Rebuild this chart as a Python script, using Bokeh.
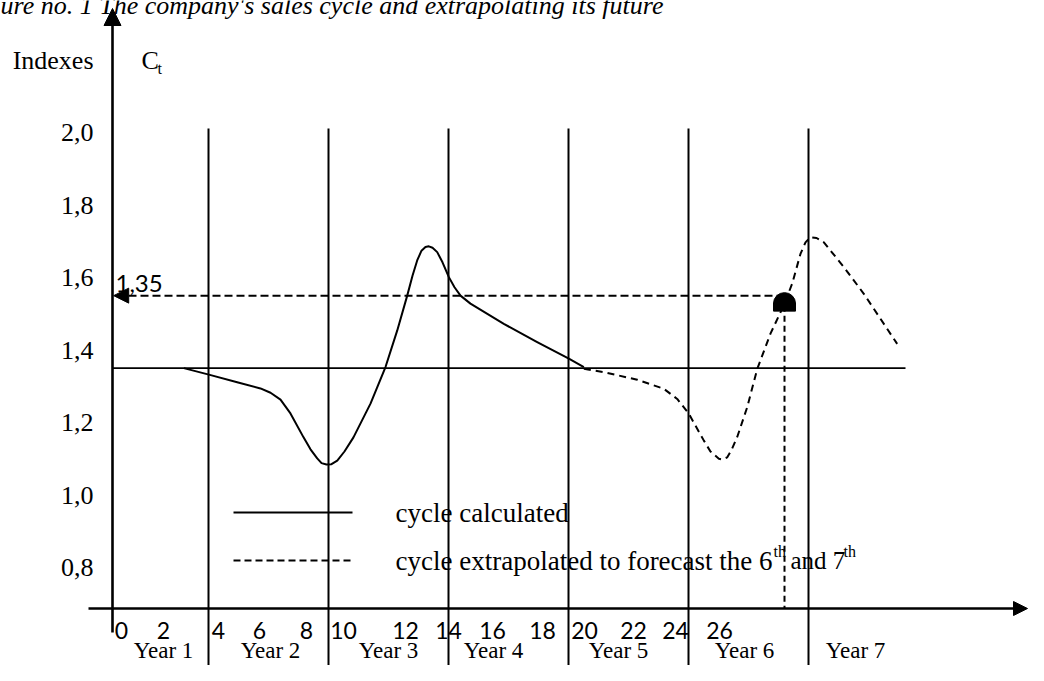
import numpy as np
from bokeh.plotting import figure
from bokeh.models import Range1d, Arrow, NormalHead
from bokeh.core.properties import value
from bokeh.embed import file_html
from bokeh.resources import INLINE

# ---------------- data ----------------
title_text = "Figure no. 1 The company's sales cycle and extrapolating its future"
index_ticks = [2.0, 1.8, 1.6, 1.4, 1.2, 1.0, 0.8]
index_tick_labels = ["2,0", "1,8", "1,6", "1,4", "1,2", "1,0", "0,8"]
period_labels = ["0", "2", "4", "6", "8", "10", "12", "14", "16", "18", "20", "22", "24", "26"]
year_labels = ["Year 1", "Year 2", "Year 3", "Year 4", "Year 5", "Year 6", "Year 7"]
year_boundaries = [1, 2, 3, 4, 5, 6]
trend_level = 1.35

cycle_calc_x = [0.794, 1.003, 1.239, 1.433, 1.517, 1.600, 1.683, 1.792, 1.850, 1.906,
                1.942, 1.983, 2.025, 2.073, 2.133, 2.208, 2.350, 2.475, 2.573, 2.656,
                2.700, 2.739, 2.775, 2.808, 2.836, 2.867, 2.906, 2.950, 3.003, 3.050,
                3.100, 3.183, 3.461, 3.739, 4.003, 4.128]
cycle_calc_y = [1.350, 1.332, 1.311, 1.294, 1.282, 1.263, 1.225, 1.159, 1.126, 1.101,
                1.088, 1.084, 1.085, 1.095, 1.120, 1.159, 1.252, 1.353, 1.454, 1.550,
                1.605, 1.647, 1.674, 1.684, 1.686, 1.682, 1.670, 1.642, 1.601, 1.573,
                1.550, 1.528, 1.472, 1.422, 1.376, 1.353]

cycle_fore_x = [4.128, 4.294, 4.573, 4.794, 4.906, 5.003, 5.128, 5.183, 5.253, 5.283,
                5.323, 5.358, 5.406, 5.489, 5.573, 5.683, 5.794, 5.864, 5.933, 5.975,
                6.017, 6.067, 6.128, 6.294, 6.461, 6.628, 6.739]
cycle_fore_y = [1.348, 1.339, 1.318, 1.293, 1.265, 1.224, 1.150, 1.120, 1.100, 1.098,
                1.104, 1.124, 1.160, 1.242, 1.348, 1.445, 1.523, 1.583, 1.665, 1.697,
                1.711, 1.709, 1.697, 1.629, 1.555, 1.472, 1.417]

forecast_x = 5.80
forecast_value = 1.55
forecast_label = "1,35"

legend_calc = "cycle calculated"
legend_fore = "cycle extrapolated to forecast the 6"
legend_fore_tail = "and 7"
sup_text = "th"

# ---------------- layout (positions only) ----------------
PX_X = 120.0      # pixels per year
PX_Y = 362.5      # pixels per index unit
W, H = 1028, 665

def vx(px):   # canvas x pixel -> data x
    return (px - 88.0) / PX_X

def vy(py):   # canvas y pixel -> data y
    return 2.0 - (py - 132.0) / PX_Y

period_label_pos = [vx(p) for p in [121, 163, 218, 259, 306, 343, 405, 448, 492, 542, 584, 633, 675, 719]]
year_label_pos = [vx(p) for p in [163, 270, 388, 493, 618, 744, 855]]

axis_x = vx(112)
axis_y = vy(608)

serif = value("Liberation Serif")
sans = value("Lato")

p = figure(width=W, height=H, output_backend="svg", toolbar_location=None,
           x_range=Range1d(vx(0), vx(W)), y_range=Range1d(vy(H), vy(0)),
           x_axis_type=None, y_axis_type=None, min_border=0)
p.grid.visible = False
p.outline_line_color = None
p.background_fill_color = "white"

# year boundary lines
p.segment(x0=year_boundaries, y0=[vy(128)] * len(year_boundaries),
          x1=year_boundaries, y1=[vy(700)] * len(year_boundaries),
          line_color="black", line_width=2)

# trend line
p.segment(x0=[axis_x], y0=[trend_level], x1=[vx(905)], y1=[trend_level],
          line_color="black", line_width=1.8)

# axes with arrows
p.add_layout(Arrow(end=NormalHead(size=17, fill_color="black", line_color="black"),
                   x_start=axis_x, y_start=vy(632), x_end=axis_x, y_end=vy(8),
                   line_color="black", line_width=2.6))
p.add_layout(Arrow(end=NormalHead(size=14, fill_color="black", line_color="black"),
                   x_start=vx(88), y_start=axis_y, x_end=vx(1027), y_end=axis_y,
                   line_color="black", line_width=2.6))

# cycle curves
p.line(cycle_calc_x, cycle_calc_y, line_color="black", line_width=2, line_join="round")
p.line(cycle_fore_x, cycle_fore_y, line_color="black", line_width=2, line_dash="7 5")

# forecast projection lines
p.add_layout(Arrow(end=NormalHead(size=15, fill_color="black", line_color="black"),
                   x_start=forecast_x, y_start=forecast_value, x_end=axis_x + 0.01, y_end=forecast_value,
                   line_color="black", line_width=2, line_dash="8 4"))
p.segment(x0=[forecast_x], y0=[forecast_value], x1=[forecast_x], y1=[axis_y],
          line_color="black", line_width=2, line_dash="6 4")

# forecast marker
p.wedge(x=[forecast_x], y=[forecast_value - 8 / PX_Y], radius=11, radius_units="screen",
        start_angle=0, end_angle=np.pi, fill_color="black", line_color="black")
p.rect(x=[forecast_x], y=[forecast_value - 11.5 / PX_Y], width=22, height=8,
       width_units="screen", height_units="screen", fill_color="black", line_color="black")

# tick labels
p.text(x=[vx(93)] * len(index_ticks), y=index_ticks, text=index_tick_labels,
       text_font=serif, text_font_size=value("26px"), text_align="right",
       text_baseline="middle", text_color="black")
p.text(x=period_label_pos, y=[vy(630)] * len(period_labels), text=period_labels,
       text_font=sans, text_font_size=value("23px"), text_align="center",
       text_baseline="middle", text_color="black")
p.text(x=year_label_pos, y=[vy(650)] * len(year_labels), text=year_labels,
       text_font=serif, text_font_size=value("23px"), text_align="center",
       text_baseline="middle", text_color="black")

# axis titles
p.text(x=[vx(93)], y=[vy(60)], text=["Indexes"], text_font=serif, text_font_size=value("26px"),
       text_align="right", text_baseline="middle", text_color="black")
p.text(x=[vx(141)], y=[vy(60)], text=["C"], text_font=serif, text_font_size=value("26px"),
       text_align="left", text_baseline="middle", text_color="black")
p.text(x=[vx(157)], y=[vy(68)], text=["t"], text_font=serif, text_font_size=value("16px"),
       text_align="left", text_baseline="middle", text_color="black")

# forecast value label
p.text(x=[vx(115)], y=[vy(283)], text=[forecast_label], text_font=sans, text_font_size=value("24px"),
       text_align="left", text_baseline="middle", text_color="black")

# title (partly cut off at the top as in the source)
p.text(x=[vx(663)], y=[vy(5)], text=[title_text], text_font=serif, text_font_size=value("26px"),
       text_font_style="italic", text_align="right", text_baseline="alphabetic", text_color="black")

# legend
p.segment(x0=[vx(233)], y0=[vy(512)], x1=[vx(352)], y1=[vy(512)], line_color="black", line_width=2)
p.segment(x0=[vx(233)], y0=[vy(560)], x1=[vx(352)], y1=[vy(560)], line_color="black", line_width=2,
          line_dash="7 4")
p.text(x=[vx(395)], y=[vy(512)], text=[legend_calc], text_font=serif, text_font_size=value("27px"),
       text_align="left", text_baseline="middle", text_color="black")
p.text(x=[vx(395)], y=[vy(560)], text=[legend_fore], text_font=serif, text_font_size=value("27px"),
       text_align="left", text_baseline="middle", text_color="black")
p.text(x=[vx(790)], y=[vy(560)], text=[legend_fore_tail], text_font=serif, text_font_size=value("25px"),
       text_align="left", text_baseline="middle", text_color="black")
p.text(x=[vx(773), vx(843)], y=[vy(551), vy(551)], text=[sup_text, sup_text], text_font=serif,
       text_font_size=value("16px"), text_align="left", text_baseline="middle", text_color="black")

open("out.html", "w").write(file_html(p, INLINE))
